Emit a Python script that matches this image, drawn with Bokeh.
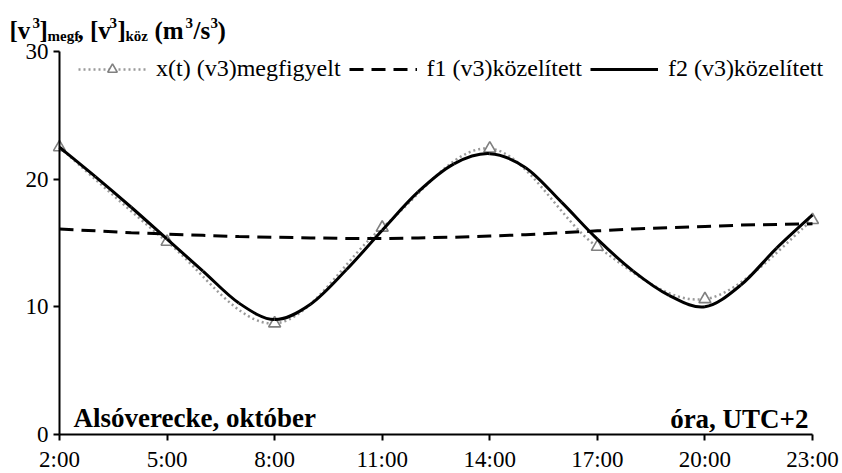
from bokeh.plotting import figure
from bokeh.models import (Range1d, FixedTicker, Legend, LegendItem, Label, ColumnDataSource)
from bokeh.core.properties import value
from bokeh.embed import file_html
from bokeh.resources import INLINE

# ---- data ----
obs_hours = [2, 5, 8, 11, 14, 17, 20, 23]
obs_vals = [22.5, 15.1, 8.7, 16.2, 22.4, 14.7, 10.6, 16.8]

fit_hours = list(range(2, 24))
f1_vals = [16.1, 15.95, 15.8, 15.7, 15.6, 15.5, 15.45, 15.4, 15.35, 15.35, 15.4,
           15.45, 15.55, 15.65, 15.8, 15.95, 16.1, 16.2, 16.3, 16.4, 16.45, 16.5]
f2_vals = [22.5, 20.2, 17.8, 15.3, 12.8, 10.3, 9.0, 10.2, 12.9, 16.0, 19.0,
           21.2, 22.0, 20.9, 18.2, 15.3, 12.8, 10.9, 10.0, 11.7, 14.6, 17.2]

x_ticks = [2, 5, 8, 11, 14, 17, 20, 23]
x_tick_labels = ["2:00", "5:00", "8:00", "11:00", "14:00", "17:00", "20:00", "23:00"]
y_ticks = [0, 10, 20, 30]

series_names = ["x(t) (v3)megfigyelt", "f1 (v3)közelített", "f2 (v3)közelített"]

SERIF = "Liberation Serif"

# ---- layout (pixels) ----
W, H = 842, 473
AX_LEFT, AX_RIGHT = 59, 812      # x pixel of first / last x tick
AX_TOP, AX_BOTTOM = 51, 434      # y pixel of top / bottom y tick
X0, X1 = x_ticks[0], x_ticks[-1]
Y0, Y1 = y_ticks[0], y_ticks[-1]
xs_px = (AX_RIGHT - AX_LEFT) / (X1 - X0)
ys_px = (AX_BOTTOM - AX_TOP) / (Y1 - Y0)
x_range = Range1d(X0 - AX_LEFT / xs_px, X1 + (W - AX_RIGHT) / xs_px)
y_range = Range1d(Y0 - (H - AX_BOTTOM) / ys_px, Y1 + AX_TOP / ys_px)


def smooth_segments(xs, ys):
    """Bezier segments (Excel-like smoothed line) through the given points."""
    n = len(xs)
    d = dict(x0=[], y0=[], x1=[], y1=[], cx0=[], cy0=[], cx1=[], cy1=[])
    for i in range(n - 1):
        xm, ym = (xs[i - 1], ys[i - 1]) if i > 0 else (xs[i], ys[i])
        xp, yp = (xs[i + 2], ys[i + 2]) if i + 2 < n else (xs[i + 1], ys[i + 1])
        d["x0"].append(xs[i]); d["y0"].append(ys[i])
        d["x1"].append(xs[i + 1]); d["y1"].append(ys[i + 1])
        d["cx0"].append(xs[i] + (xs[i + 1] - xm) / 6.0)
        d["cy0"].append(ys[i] + (ys[i + 1] - ym) / 6.0)
        d["cx1"].append(xs[i + 1] - (xp - xs[i]) / 6.0)
        d["cy1"].append(ys[i + 1] - (yp - ys[i]) / 6.0)
    return ColumnDataSource(d)


p = figure(width=W, height=H, x_range=x_range, y_range=y_range,
           output_backend="svg", toolbar_location=None,
           min_border=0, min_border_left=0, min_border_right=0,
           min_border_top=0, min_border_bottom=0)
p.outline_line_color = None
p.xgrid.visible = False
p.ygrid.visible = False
p.background_fill_color = "white"
p.border_fill_color = "white"

for ax in (p.xaxis[0], p.yaxis[0]):
    ax.axis_line_width = 2
    ax.axis_line_color = "black"
    ax.major_tick_line_width = 2
    ax.major_tick_line_color = "black"
    ax.minor_tick_line_color = None
    ax.major_tick_in = 0
    ax.major_tick_out = 6
    ax.major_label_text_font = SERIF
    ax.major_label_text_font_size = "23px"
    ax.major_label_text_color = "black"

p.xaxis.fixed_location = Y0
p.xaxis.bounds = (X0, X1)
p.xaxis.ticker = FixedTicker(ticks=x_ticks)
p.xaxis.major_label_overrides = {t: l for t, l in zip(x_ticks, x_tick_labels)}
p.xaxis.major_label_standoff = 6
p.yaxis.fixed_location = X0
p.yaxis.bounds = (Y0, Y1)
p.yaxis.ticker = FixedTicker(ticks=y_ticks)
p.yaxis.major_label_standoff = 5

OBS_COLOR = "#9a9a9a"
MARK_COLOR = "#808080"
nan = float("nan")

# observed: smoothed dotted line + triangles
p.bezier(x0="x0", y0="y0", x1="x1", y1="y1", cx0="cx0", cy0="cy0", cx1="cx1", cy1="cy1",
         source=smooth_segments(obs_hours, obs_vals),
         line_color=OBS_COLOR, line_width=2.5, line_dash="2 3")
obs_marks = p.scatter(obs_hours, obs_vals, marker="triangle", size=12,
                      line_color=MARK_COLOR, line_width=1.6, fill_color="white")

# f1 dashed
f1_r = p.line(fit_hours, f1_vals, line_color="black", line_width=3, line_dash="14 8")

# f2 solid smoothed
p.bezier(x0="x0", y0="y0", x1="x1", y1="y1", cx0="cx0", cy0="cy0", cx1="cx1", cy1="cy1",
         source=smooth_segments(fit_hours, f2_vals), line_color="black", line_width=3)

# legend proxies (no visible data)
obs_leg = p.line([nan, nan], [nan, nan], line_color=OBS_COLOR, line_width=2.5, line_dash="2 3")
f2_leg = p.line([nan, nan], [nan, nan], line_color="black", line_width=3)

legend = Legend(items=[
    LegendItem(label=value(series_names[0]), renderers=[obs_leg, obs_marks]),
    LegendItem(label=value(series_names[1]), renderers=[f1_r]),
    LegendItem(label=value(series_names[2]), renderers=[f2_leg]),
], orientation="horizontal", location=(78, H - 58 - 24))
legend.border_line_color = None
legend.background_fill_alpha = 0
legend.padding = 0
legend.margin = 0
legend.spacing = 8
legend.glyph_width = 68
legend.glyph_height = 24
legend.label_standoff = 10
legend.label_height = 24
legend.label_text_font = SERIF
legend.label_text_font_size = "24px"
legend.label_text_color = "black"
p.add_layout(legend, "center")

# title pieces (bold serif with superscripts / subscripts): text, left px, baseline px, size
MAIN, SMALL = "25px", "15px"
title_parts = [("[v", 9, 30, MAIN), ("3", 32, 22, SMALL), ("]", 39, 30, MAIN),
               ("megf", 47, 35, SMALL),
               (", [v", 77, 30, MAIN), ("3", 109, 22, SMALL), ("]", 117, 30, MAIN),
               ("köz", 125, 35, SMALL),
               ("(m", 154, 30, MAIN), ("3", 185, 22, SMALL), ("/s", 193, 30, MAIN),
               ("3", 210, 22, SMALL), (")", 217, 30, MAIN)]
for txt, left, base, fs in title_parts:
    p.add_layout(Label(x=X0, y=Y1, x_offset=left - AX_LEFT, y_offset=AX_TOP - base, text=txt,
                       text_font=SERIF, text_font_style="bold", text_font_size=fs,
                       text_baseline="alphabetic", text_align="left", text_color="black"))

p.add_layout(Label(x=X0, y=Y0, x_offset=14, y_offset=17, text="Alsóverecke, október",
                   text_font=SERIF, text_font_style="bold", text_font_size="27px",
                   text_baseline="alphabetic", text_align="left", text_color="black"))
p.add_layout(Label(x=X1, y=Y0, x_offset=-4, y_offset=16, text="óra, UTC+2",
                   text_font=SERIF, text_font_style="bold", text_font_size="27px",
                   text_baseline="alphabetic", text_align="right", text_color="black"))

open("out.html", "w").write(file_html(p, INLINE))
